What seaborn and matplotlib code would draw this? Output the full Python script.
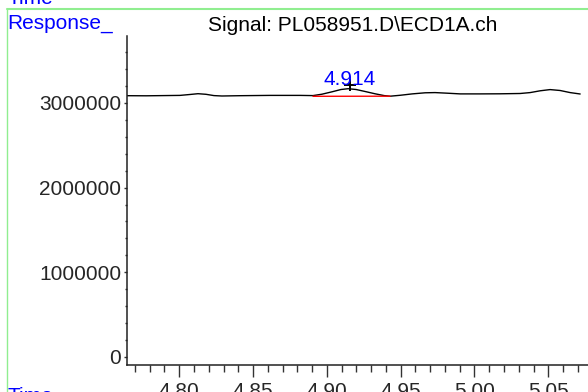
import matplotlib
matplotlib.use("Agg")
import matplotlib.pyplot as plt
import seaborn as sns
import pandas as pd
from matplotlib.lines import Line2D
from matplotlib.ticker import MultipleLocator

# chromatogram trace
time_min = [4.7646, 4.7776, 4.8005, 4.8072, 4.8127, 4.8181, 4.8235, 4.8289, 4.8411,
            4.8615, 4.8818, 4.8906, 4.8967, 4.9035, 4.9096, 4.9144, 4.9198, 4.9259,
            4.9327, 4.9388, 4.9428, 4.9496, 4.9578, 4.9666, 4.9733, 4.9815, 4.9903,
            5.0038, 5.0174, 5.0309, 5.0377, 5.0445, 5.0512, 5.0580, 5.0648, 5.0716]
response = [3084900, 3083700, 3088500, 3099100, 3108500, 3101400, 3086100, 3081400,
            3084900, 3088500, 3088500, 3086100, 3102600, 3130900, 3158100, 3167500,
            3158100, 3134500, 3107300, 3086100, 3079000, 3089700, 3106200, 3119200,
            3121600, 3114500, 3106200, 3106200, 3107300, 3110900, 3121600, 3142800,
            3157000, 3146400, 3121600, 3105000]

# integration baseline under the peak
base_t = [4.8906, 4.9428]
base_y = [3077800, 3079000]

peak_rt = 4.914
peak_mark_y = 3211000
peak_label = "4.914"

x_ticks = [4.80, 4.85, 4.90, 4.95, 5.00, 5.05]
y_ticks = [0, 1000000, 2000000, 3000000]
title = "Signal: PL058951.D\\ECD1A.ch"

sns.set_style("ticks")
plt.rcParams["font.family"] = ["Liberation Sans", "DejaVu Sans"]

fig = plt.figure(figsize=(5.88, 3.92), dpi=100)
ax = fig.add_axes([127 / 588, 27 / 392, 1 - 127 / 588, (365 - 36) / 392])

df = pd.DataFrame({"Time": time_min, "Response": response})
sns.lineplot(data=df, x="Time", y="Response", ax=ax, color="black", linewidth=1.0,
             estimator=None, sort=False)
sns.lineplot(x=base_t, y=base_y, ax=ax, color="red", linewidth=1.0, estimator=None)
ax.plot([peak_rt + 0.0015], [peak_mark_y], marker="+", color="black", markersize=9,
        mew=1.4)
ax.text(peak_rt + 0.0015, peak_mark_y, peak_label, color="blue", fontsize=15,
        ha="center", va="baseline")

ax.set_xlim(4.7646, 5.0769)
ax.set_ylim(-94500, 3789700)
ax.set_xticks(x_ticks)
ax.set_xticklabels([f"{t:.2f}" for t in x_ticks])
ax.set_yticks(y_ticks)
ax.set_yticklabels([str(v) for v in y_ticks])
ax.xaxis.set_minor_locator(MultipleLocator(0.01))
ax.yaxis.set_minor_locator(MultipleLocator(200000))
ax.tick_params(axis="x", which="major", length=8.4, width=1, direction="out",
               labelsize=15, pad=3.5, color="#333333")
ax.tick_params(axis="x", which="minor", length=4.8, width=1, direction="out",
               color="#333333")
ax.tick_params(axis="y", which="major", length=2.2, width=1, direction="out",
               labelsize=15, pad=2, color="#333333")
ax.tick_params(axis="y", which="minor", length=1.4, width=1, direction="out",
               color="#333333")
ax.set_xlabel("")
ax.set_ylabel("")
sns.despine(ax=ax)
for s in ("left", "bottom"):
    ax.spines[s].set_linewidth(1.1)
    ax.spines[s].set_color("#222222")

# frame lines and labels of the report page
green = "#90ee90"
fig.add_artist(Line2D([7 / 588, 1.0], [1 - 9 / 392, 1 - 9 / 392], color=green,
                      linewidth=1.5, transform=fig.transFigure))
fig.add_artist(Line2D([7 / 588, 7 / 588], [1 - 9 / 392, 0], color=green,
                      linewidth=1.0, transform=fig.transFigure))
fig.text(7 / 588, 1 - 28.5 / 392, "Response_", color="blue", fontsize=15,
         va="baseline", ha="left")
fig.text(352.5 / 588, 1 - 31 / 392, title, color="black", fontsize=15,
         va="baseline", ha="center")
fig.text(8 / 588, 1 - 4 / 392, "Time", color="blue", fontsize=15,
         va="baseline", ha="left")
fig.text(8 / 588, 1 - 402 / 392, "Time", color="blue", fontsize=15,
         va="baseline", ha="left")

fig.savefig("out.png", dpi=100)
